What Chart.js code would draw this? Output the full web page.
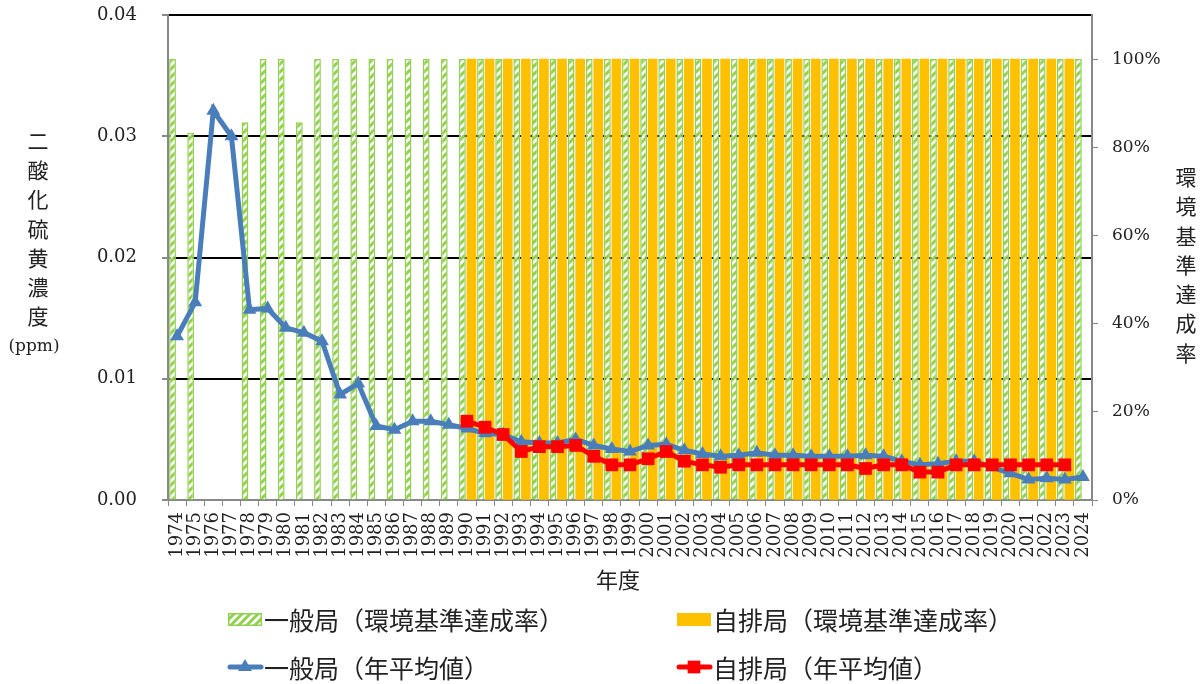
<!DOCTYPE html>
<html><head><meta charset="utf-8">
<script src="https://cdn.jsdelivr.net/npm/chart.js@4.4.1/dist/chart.umd.min.js"></script>
<style>html,body{margin:0;padding:0;background:#fff;}#wrap{width:1204px;height:684px;}</style>
</head><body><div id="wrap"><canvas id="c" width="1204" height="684"></canvas></div>
<script>
const years = ["1974","1975","1976","1977","1978","1979","1980","1981","1982","1983","1984","1985","1986","1987","1988","1989","1990","1991","1992","1993","1994","1995","1996","1997","1998","1999","2000","2001","2002","2003","2004","2005","2006","2007","2008","2009","2010","2011","2012","2013","2014","2015","2016","2017","2018","2019","2020","2021","2022","2023","2024"];
const generalRate = [100,83.3,null,null,85.7,100,100,85.7,100,100,100,100,100,100,100,100,100,100,100,100,100,100,100,100,100,100,100,100,100,100,100,100,100,100,100,100,100,100,100,100,100,100,100,100,100,100,100,100,100,100,100];
const exhaustRate = [null,null,null,null,null,null,null,null,null,null,null,null,null,null,null,null,100,100,100,100,100,100,100,100,100,100,100,100,100,100,100,100,100,100,100,100,100,100,100,100,100,100,100,100,100,100,100,100,100,100,null];
const generalMean = [0.0135,0.0163,0.0321,0.0300,0.0157,0.0158,0.0142,0.0138,0.0131,0.0087,0.0096,0.0061,0.0058,0.0065,0.0065,0.0062,0.0059,0.0055,0.0054,0.0048,0.0047,0.0047,0.0050,0.0045,0.0042,0.0040,0.0045,0.0046,0.0041,0.0038,0.0036,0.0037,0.0039,0.0037,0.0037,0.0036,0.0036,0.0036,0.0037,0.0036,0.0032,0.0029,0.0030,0.0032,0.0032,0.0027,0.0022,0.0017,0.0018,0.0017,0.0019];
const exhaustMean = [null,null,null,null,null,null,null,null,null,null,null,null,null,null,null,null,0.0065,0.0060,0.0054,0.0040,0.0044,0.0044,0.0045,0.0036,0.0029,0.0029,0.0034,0.0040,0.0032,0.0029,0.0027,0.0029,0.0029,0.0029,0.0029,0.0029,0.0029,0.0029,0.0026,0.0029,0.0029,0.0023,0.0023,0.0029,0.0029,0.0029,0.0029,0.0029,0.0029,0.0029,null];
const leftTitle = ["二","酸","化","硫","黄","濃","度"];
const leftUnit = "(ppm)";
const rightTitle = ["環","境","基","準","達","成","率"];
const xTitle = "年度";
const labels = {gRate:"一般局（環境基準達成率）", eRate:"自排局（環境基準達成率）", gMean:"一般局（年平均値）", eMean:"自排局（年平均値）"};

const GREEN = '#92D050', ORANGE = '#FFC000', BLUE = '#4A7EBB', RED = '#FF0000';
const canvas = document.getElementById('c');
const mainCtx = canvas.getContext('2d');
function hatch(){
  const p = document.createElement('canvas'); p.width = 8; p.height = 8;
  const g = p.getContext('2d');
  g.fillStyle = '#fff'; g.fillRect(0,0,8,8);
  g.strokeStyle = GREEN; g.lineWidth = 3;
  g.beginPath();
  g.moveTo(-1,9); g.lineTo(9,-1);
  g.moveTo(-3,3); g.lineTo(3,-3);
  g.moveTo(5,11); g.lineTo(11,5);
  g.stroke();
  return mainCtx.createPattern(p,'repeat');
}
const pattern = hatch();
const CJK = '"Noto Sans CJK JP", sans-serif';
const NUM = '"DejaVu Serif", serif';

const decor = {
  id:'decor',
  afterDraw(chart){
    const ctx = chart.ctx;
    ctx.save();
    ctx.fillStyle = '#222';
    ctx.textAlign = 'center'; ctx.textBaseline = 'middle';
    ctx.font = '21px ' + CJK;
    leftTitle.forEach((ch,i)=>ctx.fillText(ch, 38, 141 + i*29.2));
    ctx.font = '17px ' + NUM;
    ctx.fillText(leftUnit, 34, 347);
    ctx.font = '21px ' + CJK;
    rightTitle.forEach((ch,i)=>ctx.fillText(ch, 1186, 177 + i*29.3));
    ctx.font = '22px ' + CJK;
    ctx.fillText(xTitle, 618, 580);
    const items = [
      {k:'bar', fill:pattern, stroke:GREEN, text:labels.gRate, x:228, y:619},
      {k:'bar', fill:ORANGE, stroke:ORANGE, text:labels.eRate, x:677, y:619},
      {k:'line', color:BLUE, style:'triangle', text:labels.gMean, x:228, y:667},
      {k:'line', color:RED, style:'rect', text:labels.eMean, x:677, y:667}
    ];
    ctx.font = '25px ' + CJK;
    ctx.textAlign = 'left';
    items.forEach(it=>{
      if(it.k==='bar'){
        ctx.fillStyle = it.fill;
        ctx.fillRect(it.x, it.y-6, 34, 13);
        ctx.strokeStyle = it.stroke; ctx.lineWidth = 1.5;
        ctx.strokeRect(it.x+0.75, it.y-5.25, 32.5, 11.5);
      } else {
        ctx.strokeStyle = it.color; ctx.lineWidth = 5; ctx.lineCap='round';
        ctx.beginPath(); ctx.moveTo(it.x+2, it.y); ctx.lineTo(it.x+33, it.y); ctx.stroke();
        ctx.fillStyle = it.color;
        Chart.helpers.drawPoint(ctx, {pointStyle:it.style, radius: it.style==='rect'?9:8, borderWidth:0}, it.x+17, it.y);
      }
      ctx.fillStyle = '#222';
      ctx.fillText(it.text, it.x+36, it.y+1);
    });
    ctx.restore();
  }
};

function noPad(s){ s.paddingTop = 0; s.paddingBottom = 0; s.paddingLeft = 0; s.paddingRight = 0; }

new Chart(canvas, {
  type:'bar',
  data:{
    labels: years,
    datasets:[
      {type:'line', label:labels.eMean, data:exhaustMean, yAxisID:'y', borderColor:RED, backgroundColor:RED, borderWidth:5, pointStyle:'rect', pointRadius:9, pointBorderWidth:0, order:0, spanGaps:false, tension:0},
      {type:'line', label:labels.gMean, data:generalMean, yAxisID:'y', borderColor:BLUE, backgroundColor:BLUE, borderWidth:5, pointStyle:'triangle', pointRadius:8, pointBorderWidth:0, order:1, tension:0},
      {type:'bar', label:labels.gRate, data:generalRate, yAxisID:'y1', backgroundColor:pattern, borderColor:GREEN, borderWidth:1.5, barPercentage:0.75, categoryPercentage:1.0, order:2},
      {type:'bar', label:labels.eRate, data:exhaustRate, yAxisID:'y1', backgroundColor:ORANGE, borderWidth:0, barPercentage:1.0, categoryPercentage:1.0, order:3}
    ]
  },
  options:{
    responsive:false, animation:false, devicePixelRatio:1,
    layout:{padding:{top:15,left:0,right:0,bottom:0}},
    plugins:{legend:{display:false}, tooltip:{enabled:false}},
    scales:{
      x:{
        grid:{display:true, drawOnChartArea:false, drawTicks:true, tickLength:6, tickColor:'#888', offset:true},
        border:{color:'#888', width:2},
        ticks:{autoSkip:false, maxRotation:90, minRotation:90, padding:6, color:'#222', font:{family:'DejaVu Serif', size:18}},
        afterFit(s){ s.height = 184; noPad(s); }
      },
      y:{
        position:'left', min:0, max:0.04,
        ticks:{stepSize:0.01, padding:25, color:'#222', font:{family:'DejaVu Serif', size:18}, callback:v=>v.toFixed(2)},
        grid:{color:c=>(c.tick && c.tick.value===0)?'rgba(0,0,0,0)':'#000', lineWidth:2, tickColor:'#888', tickLength:6},
        border:{color:'#888', width:2},
        afterFit(s){ s.width = 168; noPad(s); }
      },
      y1:{
        position:'right', min:0, max:110,
        ticks:{stepSize:20, padding:14, color:'#222', font:{family:'DejaVu Serif', size:17}, callback:v=> v>100 ? '' : v+'%'},
        grid:{drawOnChartArea:false, tickLength:6, tickColor:c=>(c.tick && c.tick.value>100)?'rgba(0,0,0,0)':'#888'},
        border:{color:'#888', width:2},
        afterFit(s){ s.width = 112; noPad(s); }
      }
    }
  },
  plugins:[decor]
});
</script></body></html>
